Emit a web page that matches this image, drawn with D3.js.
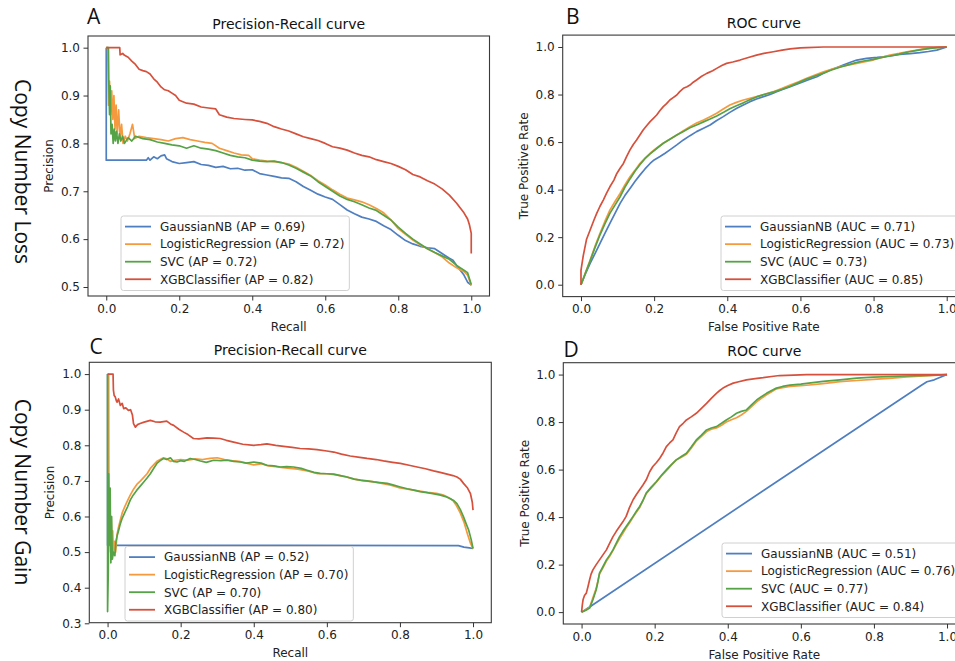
<!DOCTYPE html>
<html>
<head>
<meta charset="utf-8">
<script src="https://cdn.jsdelivr.net/npm/d3@7"></script>
<style>
  body { margin: 0; background: #fff; }
  svg { display: block; }
</style>
</head>
<body>
<div id="vis"></div>
<script>
// Curvas Precision-Recall y ROC para perdida / ganancia de numero de copias

const WIDTH = 955;
const HEIGHT = 661;

const MODELOS = ["GaussianNB", "LogisticRegression", "SVC", "XGBClassifier"];
const COLORES = ["#4f7fc0", "#f69a40", "#55a346", "#d6503b"];

const AP_LOSS = ["0.69", "0.72", "0.72", "0.82"];
const AUC_LOSS = ["0.71", "0.73", "0.73", "0.85"];
const AP_GAIN = ["0.52", "0.70", "0.70", "0.80"];
const AUC_GAIN = ["0.51", "0.76", "0.77", "0.84"];

const X_TICKS = [0, 0.2, 0.4, 0.6, 0.8, 1.0];
const Y_TICKS_PR_LOSS = [0.5, 0.6, 0.7, 0.8, 0.9, 1.0];
const Y_TICKS_PR_GAIN = [0.3, 0.4, 0.5, 0.6, 0.7, 0.8, 0.9, 1.0];
const Y_TICKS_ROC = [0, 0.2, 0.4, 0.6, 0.8, 1.0];

// ---- Copy Number Loss: Precision-Recall [recall, precision]
const lossPrGaussian = [[0,1.0],[0,0.765],[0.11,0.765],[0.115,0.77],[0.12,0.765],[0.13,0.772],[0.14,0.768],[0.15,0.774],[0.16,0.776],[0.165,0.768],[0.18,0.762],[0.2,0.758],[0.22,0.76],[0.24,0.762],[0.26,0.756],[0.28,0.754],[0.3,0.75],[0.32,0.752],[0.34,0.747],[0.36,0.748],[0.38,0.744],[0.4,0.745],[0.42,0.737],[0.44,0.734],[0.46,0.731],[0.48,0.728],[0.5,0.727],[0.52,0.72],[0.54,0.71],[0.56,0.702],[0.58,0.694],[0.6,0.688],[0.62,0.683],[0.64,0.672],[0.66,0.661],[0.68,0.653],[0.7,0.646],[0.72,0.642],[0.74,0.637],[0.76,0.628],[0.78,0.62],[0.8,0.608],[0.82,0.597],[0.84,0.59],[0.86,0.585],[0.88,0.582],[0.9,0.58],[0.92,0.57],[0.94,0.56],[0.95,0.556],[0.96,0.545],[0.97,0.535],[0.98,0.525],[0.99,0.51],[1.0,0.504]];
const lossPrLogistic = [[0,1.0],[0.004,1.0],[0.006,0.88],[0.009,0.93],[0.012,0.86],[0.015,0.91],[0.018,0.85],[0.021,0.9],[0.024,0.83],[0.027,0.88],[0.03,0.82],[0.034,0.87],[0.038,0.81],[0.042,0.84],[0.046,0.8],[0.052,0.815],[0.058,0.805],[0.065,0.82],[0.072,0.84],[0.078,0.81],[0.09,0.815],[0.11,0.812],[0.13,0.81],[0.15,0.808],[0.17,0.805],[0.19,0.81],[0.21,0.812],[0.23,0.808],[0.25,0.805],[0.27,0.802],[0.29,0.8],[0.31,0.79],[0.33,0.785],[0.35,0.78],[0.37,0.776],[0.39,0.775],[0.4,0.768],[0.42,0.765],[0.44,0.763],[0.46,0.762],[0.48,0.76],[0.5,0.757],[0.52,0.75],[0.54,0.742],[0.56,0.733],[0.58,0.722],[0.6,0.713],[0.62,0.703],[0.64,0.694],[0.66,0.686],[0.68,0.682],[0.7,0.678],[0.72,0.672],[0.74,0.664],[0.76,0.655],[0.78,0.64],[0.8,0.622],[0.82,0.61],[0.84,0.598],[0.86,0.588],[0.88,0.58],[0.9,0.572],[0.92,0.563],[0.94,0.55],[0.96,0.54],[0.98,0.532],[0.99,0.525],[1.0,0.503]];
const lossPrSvc = [[0,1.0],[0.006,1.0],[0.007,0.93],[0.009,0.86],[0.011,0.92],[0.013,0.82],[0.016,0.84],[0.019,0.8],[0.022,0.83],[0.025,0.805],[0.028,0.825],[0.032,0.8],[0.036,0.82],[0.04,0.805],[0.045,0.815],[0.05,0.8],[0.06,0.812],[0.07,0.805],[0.08,0.815],[0.1,0.81],[0.12,0.808],[0.14,0.803],[0.16,0.8],[0.18,0.797],[0.2,0.795],[0.22,0.79],[0.24,0.795],[0.26,0.79],[0.28,0.788],[0.3,0.785],[0.32,0.78],[0.34,0.775],[0.36,0.772],[0.38,0.77],[0.4,0.765],[0.42,0.763],[0.44,0.762],[0.46,0.763],[0.48,0.76],[0.5,0.755],[0.52,0.748],[0.54,0.74],[0.56,0.732],[0.58,0.72],[0.6,0.71],[0.62,0.7],[0.64,0.69],[0.66,0.683],[0.68,0.678],[0.7,0.672],[0.72,0.665],[0.74,0.66],[0.76,0.65],[0.78,0.64],[0.8,0.625],[0.82,0.612],[0.84,0.6],[0.86,0.59],[0.88,0.58],[0.9,0.572],[0.92,0.565],[0.94,0.558],[0.96,0.545],[0.98,0.535],[0.99,0.53],[1.0,0.505]];
const lossPrXgb = [[0,1.0],[0.037,1.0],[0.038,0.985],[0.045,0.988],[0.05,0.984],[0.06,0.98],[0.07,0.972],[0.08,0.965],[0.09,0.955],[0.1,0.952],[0.11,0.95],[0.12,0.945],[0.13,0.935],[0.14,0.928],[0.15,0.918],[0.16,0.912],[0.17,0.91],[0.18,0.905],[0.19,0.9],[0.2,0.89],[0.21,0.887],[0.22,0.884],[0.24,0.882],[0.26,0.876],[0.28,0.874],[0.3,0.872],[0.31,0.86],[0.33,0.855],[0.35,0.852],[0.38,0.85],[0.4,0.849],[0.42,0.846],[0.44,0.842],[0.46,0.835],[0.48,0.83],[0.5,0.826],[0.52,0.82],[0.54,0.814],[0.56,0.81],[0.58,0.806],[0.6,0.8],[0.62,0.793],[0.64,0.79],[0.66,0.786],[0.68,0.78],[0.7,0.775],[0.72,0.772],[0.74,0.766],[0.76,0.762],[0.78,0.758],[0.8,0.752],[0.82,0.745],[0.84,0.735],[0.86,0.73],[0.88,0.722],[0.9,0.715],[0.92,0.705],[0.94,0.692],[0.96,0.675],[0.97,0.665],[0.98,0.655],[0.99,0.642],[0.995,0.63],[1.0,0.612],[1.0,0.57]];

// ---- Copy Number Loss: ROC [fpr, tpr]
const lossRocGaussian = [[0,0],[0.012,0.045],[0.025,0.09],[0.038,0.13],[0.052,0.174],[0.065,0.215],[0.079,0.258],[0.093,0.3],[0.107,0.342],[0.12,0.375],[0.134,0.405],[0.148,0.435],[0.161,0.461],[0.175,0.487],[0.189,0.51],[0.2,0.525],[0.216,0.539],[0.23,0.553],[0.243,0.567],[0.262,0.588],[0.28,0.609],[0.298,0.627],[0.316,0.644],[0.335,0.658],[0.353,0.672],[0.37,0.69],[0.389,0.707],[0.407,0.725],[0.426,0.742],[0.444,0.756],[0.462,0.77],[0.48,0.781],[0.499,0.791],[0.517,0.8],[0.535,0.812],[0.553,0.822],[0.572,0.833],[0.59,0.843],[0.608,0.854],[0.626,0.864],[0.645,0.875],[0.663,0.89],[0.681,0.903],[0.7,0.914],[0.717,0.924],[0.735,0.935],[0.754,0.945],[0.781,0.952],[0.81,0.956],[0.827,0.959],[0.85,0.964],[0.872,0.969],[0.9,0.972],[0.927,0.976],[0.95,0.981],[0.973,0.987],[1.0,1.0]];
const lossRocLogistic = [[0,0],[0.012,0.05],[0.025,0.104],[0.038,0.16],[0.052,0.216],[0.065,0.265],[0.079,0.314],[0.093,0.35],[0.107,0.384],[0.12,0.42],[0.134,0.454],[0.148,0.482],[0.161,0.51],[0.175,0.533],[0.189,0.553],[0.207,0.575],[0.225,0.595],[0.243,0.612],[0.262,0.63],[0.28,0.648],[0.298,0.665],[0.316,0.68],[0.335,0.693],[0.353,0.707],[0.371,0.721],[0.39,0.74],[0.407,0.756],[0.425,0.767],[0.444,0.777],[0.462,0.784],[0.48,0.791],[0.5,0.8],[0.526,0.812],[0.55,0.826],[0.572,0.84],[0.595,0.854],[0.617,0.868],[0.64,0.882],[0.663,0.896],[0.685,0.906],[0.708,0.917],[0.73,0.924],[0.754,0.931],[0.777,0.938],[0.799,0.945],[0.82,0.955],[0.845,0.966],[0.87,0.973],[0.891,0.98],[0.915,0.986],[0.936,0.992],[0.955,0.995],[0.973,0.997],[1.0,1.0]];
const lossRocSvc = [[0,0],[0.012,0.048],[0.025,0.1],[0.038,0.155],[0.052,0.21],[0.065,0.255],[0.079,0.3],[0.093,0.335],[0.107,0.37],[0.12,0.41],[0.134,0.445],[0.148,0.478],[0.161,0.505],[0.175,0.53],[0.189,0.55],[0.207,0.573],[0.225,0.595],[0.243,0.612],[0.262,0.63],[0.28,0.645],[0.298,0.66],[0.316,0.672],[0.335,0.685],[0.353,0.697],[0.371,0.71],[0.39,0.725],[0.407,0.74],[0.425,0.753],[0.444,0.765],[0.462,0.778],[0.48,0.79],[0.5,0.8],[0.526,0.81],[0.55,0.822],[0.572,0.835],[0.595,0.85],[0.617,0.865],[0.64,0.878],[0.663,0.89],[0.685,0.903],[0.708,0.915],[0.73,0.925],[0.754,0.935],[0.777,0.942],[0.799,0.948],[0.82,0.955],[0.845,0.962],[0.87,0.97],[0.891,0.978],[0.915,0.985],[0.936,0.99],[0.955,0.994],[0.973,0.997],[1.0,1.0]];
const lossRocXgb = [[0,0],[0,0.06],[0.006,0.12],[0.015,0.19],[0.025,0.23],[0.035,0.27],[0.043,0.3],[0.052,0.33],[0.061,0.356],[0.07,0.385],[0.079,0.412],[0.09,0.44],[0.098,0.468],[0.107,0.49],[0.116,0.51],[0.125,0.54],[0.134,0.567],[0.143,0.59],[0.152,0.609],[0.161,0.63],[0.17,0.651],[0.18,0.67],[0.189,0.686],[0.198,0.7],[0.207,0.714],[0.216,0.733],[0.225,0.749],[0.234,0.762],[0.243,0.777],[0.252,0.787],[0.262,0.798],[0.27,0.812],[0.28,0.826],[0.29,0.833],[0.298,0.84],[0.307,0.852],[0.316,0.861],[0.33,0.877],[0.344,0.889],[0.36,0.9],[0.371,0.91],[0.385,0.922],[0.398,0.931],[0.415,0.937],[0.435,0.945],[0.46,0.957],[0.48,0.966],[0.5,0.973],[0.526,0.98],[0.55,0.987],[0.572,0.992],[0.6,0.996],[0.617,0.997],[0.663,1.0],[1.0,1.0]];

// ---- Copy Number Gain: Precision-Recall
const gainPrGaussian = [[0,1.0],[0,0.519],[0.5,0.519],[0.96,0.518],[0.975,0.514],[0.99,0.512],[1.0,0.51]];
const gainPrLogistic = [[0,1.0],[0.003,1.0],[0.004,0.52],[0.006,0.58],[0.008,0.5],[0.01,0.6],[0.012,0.49],[0.014,0.56],[0.016,0.5],[0.019,0.53],[0.022,0.5],[0.026,0.55],[0.03,0.57],[0.035,0.59],[0.04,0.61],[0.048,0.63],[0.055,0.645],[0.062,0.66],[0.07,0.675],[0.08,0.69],[0.09,0.7],[0.099,0.71],[0.108,0.72],[0.117,0.735],[0.126,0.745],[0.135,0.755],[0.144,0.76],[0.153,0.765],[0.162,0.762],[0.172,0.755],[0.185,0.758],[0.2,0.76],[0.22,0.758],[0.24,0.762],[0.26,0.76],[0.28,0.763],[0.3,0.765],[0.32,0.76],[0.34,0.757],[0.36,0.755],[0.38,0.75],[0.4,0.745],[0.42,0.748],[0.44,0.742],[0.46,0.74],[0.48,0.737],[0.5,0.735],[0.52,0.733],[0.55,0.727],[0.575,0.72],[0.6,0.72],[0.625,0.717],[0.65,0.712],[0.675,0.705],[0.7,0.7],[0.725,0.698],[0.75,0.693],[0.775,0.688],[0.8,0.68],[0.825,0.676],[0.85,0.672],[0.875,0.668],[0.9,0.665],[0.92,0.66],[0.935,0.652],[0.945,0.645],[0.955,0.63],[0.965,0.61],[0.975,0.585],[0.985,0.55],[0.993,0.525],[1.0,0.51]];
const gainPrSvc = [[0,1.0],[0,0.333],[0.002,0.45],[0.003,0.72],[0.005,0.52],[0.007,0.68],[0.009,0.47],[0.011,0.6],[0.013,0.48],[0.016,0.5],[0.02,0.49],[0.023,0.53],[0.026,0.545],[0.03,0.56],[0.035,0.58],[0.04,0.595],[0.048,0.613],[0.055,0.628],[0.062,0.646],[0.07,0.66],[0.08,0.674],[0.09,0.686],[0.099,0.697],[0.108,0.708],[0.117,0.72],[0.126,0.735],[0.135,0.749],[0.144,0.757],[0.153,0.763],[0.162,0.76],[0.172,0.765],[0.18,0.755],[0.19,0.753],[0.2,0.757],[0.21,0.755],[0.226,0.763],[0.24,0.76],[0.254,0.756],[0.27,0.752],[0.29,0.758],[0.31,0.757],[0.327,0.758],[0.345,0.755],[0.363,0.753],[0.38,0.75],[0.4,0.753],[0.42,0.75],[0.436,0.744],[0.455,0.742],[0.473,0.739],[0.49,0.74],[0.509,0.739],[0.53,0.735],[0.546,0.73],[0.565,0.724],[0.582,0.721],[0.6,0.72],[0.619,0.719],[0.637,0.715],[0.655,0.711],[0.675,0.705],[0.692,0.702],[0.71,0.7],[0.728,0.697],[0.745,0.695],[0.765,0.693],[0.783,0.688],[0.801,0.683],[0.82,0.678],[0.838,0.674],[0.855,0.67],[0.874,0.667],[0.89,0.664],[0.911,0.66],[0.925,0.656],[0.938,0.65],[0.948,0.644],[0.956,0.636],[0.965,0.62],[0.974,0.599],[0.981,0.58],[0.988,0.562],[0.995,0.535],[1.0,0.51]];
const gainPrXgb = [[0,1.0],[0.015,1.0],[0.016,0.955],[0.018,0.94],[0.021,0.936],[0.024,0.925],[0.026,0.921],[0.03,0.93],[0.035,0.912],[0.04,0.918],[0.044,0.903],[0.05,0.905],[0.057,0.898],[0.063,0.9],[0.068,0.885],[0.071,0.861],[0.076,0.851],[0.082,0.858],[0.089,0.861],[0.1,0.865],[0.117,0.87],[0.13,0.866],[0.144,0.865],[0.162,0.868],[0.172,0.86],[0.181,0.856],[0.195,0.845],[0.208,0.837],[0.22,0.83],[0.235,0.819],[0.25,0.818],[0.272,0.821],[0.29,0.82],[0.308,0.819],[0.325,0.814],[0.345,0.809],[0.37,0.803],[0.4,0.8],[0.42,0.802],[0.436,0.804],[0.46,0.8],[0.482,0.797],[0.505,0.794],[0.527,0.791],[0.55,0.79],[0.573,0.788],[0.6,0.784],[0.619,0.781],[0.64,0.775],[0.664,0.77],[0.69,0.766],[0.71,0.763],[0.735,0.76],[0.755,0.756],[0.78,0.752],[0.801,0.749],[0.825,0.744],[0.847,0.739],[0.87,0.734],[0.892,0.728],[0.91,0.724],[0.929,0.719],[0.945,0.715],[0.956,0.711],[0.965,0.705],[0.974,0.693],[0.985,0.68],[0.993,0.664],[0.998,0.64],[1.0,0.618]];

// ---- Copy Number Gain: ROC
const gainRocGaussian = [[0,0],[0.025,0.025],[0.5,0.514],[0.93,0.955],[0.945,0.97],[0.965,0.978],[1.0,1.0]];
const gainRocLogistic = [[0,0],[0.012,0.01],[0.022,0.02],[0.031,0.06],[0.04,0.1],[0.049,0.16],[0.058,0.185],[0.068,0.215],[0.077,0.235],[0.086,0.26],[0.095,0.285],[0.104,0.31],[0.113,0.332],[0.122,0.355],[0.131,0.375],[0.141,0.4],[0.15,0.42],[0.159,0.44],[0.168,0.47],[0.177,0.5],[0.19,0.522],[0.205,0.548],[0.218,0.572],[0.232,0.595],[0.245,0.618],[0.259,0.64],[0.273,0.652],[0.287,0.665],[0.3,0.69],[0.314,0.72],[0.328,0.74],[0.342,0.76],[0.355,0.77],[0.369,0.775],[0.383,0.787],[0.396,0.8],[0.41,0.81],[0.424,0.818],[0.437,0.83],[0.451,0.845],[0.465,0.865],[0.479,0.885],[0.492,0.9],[0.506,0.915],[0.52,0.928],[0.533,0.94],[0.55,0.945],[0.57,0.95],[0.6,0.953],[0.616,0.955],[0.661,0.962],[0.707,0.97],[0.753,0.975],[0.798,0.98],[0.85,0.985],[0.89,0.99],[0.95,0.995],[1.0,1.0]];
const gainRocSvc = [[0,0],[0.012,0.008],[0.022,0.017],[0.031,0.052],[0.04,0.094],[0.045,0.13],[0.049,0.164],[0.058,0.19],[0.068,0.22],[0.077,0.24],[0.086,0.262],[0.095,0.29],[0.104,0.318],[0.113,0.34],[0.122,0.36],[0.131,0.38],[0.141,0.403],[0.15,0.425],[0.159,0.445],[0.168,0.47],[0.177,0.501],[0.19,0.525],[0.205,0.55],[0.218,0.575],[0.232,0.599],[0.245,0.62],[0.259,0.641],[0.273,0.655],[0.287,0.669],[0.3,0.695],[0.314,0.725],[0.328,0.745],[0.342,0.767],[0.355,0.775],[0.369,0.781],[0.383,0.795],[0.396,0.809],[0.41,0.822],[0.424,0.837],[0.437,0.845],[0.451,0.851],[0.465,0.872],[0.479,0.893],[0.492,0.907],[0.506,0.921],[0.52,0.933],[0.533,0.943],[0.55,0.95],[0.57,0.956],[0.6,0.96],[0.616,0.963],[0.661,0.971],[0.707,0.978],[0.753,0.985],[0.798,0.989],[0.85,0.992],[0.89,0.994],[0.95,0.997],[1.0,1.0]];
const gainRocXgb = [[0,0],[0.002,0.03],[0.004,0.052],[0.008,0.07],[0.013,0.08],[0.018,0.11],[0.022,0.136],[0.026,0.16],[0.031,0.178],[0.04,0.2],[0.049,0.22],[0.058,0.24],[0.068,0.262],[0.077,0.29],[0.086,0.318],[0.095,0.34],[0.104,0.36],[0.113,0.38],[0.122,0.403],[0.131,0.44],[0.141,0.473],[0.15,0.495],[0.159,0.515],[0.168,0.535],[0.177,0.557],[0.186,0.59],[0.195,0.613],[0.205,0.63],[0.214,0.648],[0.223,0.67],[0.232,0.697],[0.241,0.712],[0.25,0.725],[0.259,0.755],[0.268,0.781],[0.278,0.795],[0.287,0.809],[0.3,0.822],[0.314,0.837],[0.328,0.858],[0.342,0.879],[0.355,0.9],[0.369,0.921],[0.378,0.933],[0.387,0.943],[0.4,0.954],[0.415,0.964],[0.43,0.97],[0.451,0.978],[0.475,0.983],[0.497,0.987],[0.52,0.992],[0.542,0.996],[0.58,0.998],[0.616,1.0],[1.0,1.0]];

const SVG = d3.select("#vis").append("svg")
    .attr("width", WIDTH)
    .attr("height", HEIGHT);

const FUENTE = "DejaVu Sans, sans-serif";
const FUENTE_ROTULO = "'Open Sans', 'Noto Sans', sans-serif";
const fmt = d3.format(".1f");

function dibujarPanel(cfg) {
    const x = d3.scaleLinear().domain(cfg.xDom).range([cfg.left, cfg.right]);
    const y = d3.scaleLinear().domain(cfg.yDom).range([cfg.bottom, cfg.top]);

    const g = SVG.append("g").attr("class", "panel");

    // clip para que las lineas no se salgan del marco
    g.append("clipPath").attr("id", "clip-" + cfg.id)
        .append("rect")
        .attr("x", cfg.left).attr("y", cfg.top)
        .attr("width", cfg.right - cfg.left).attr("height", cfg.bottom - cfg.top);

    const linea = d3.line().x(d => x(d[0])).y(d => y(d[1]));

    g.append("g")
        .attr("clip-path", `url(#clip-${cfg.id})`)
        .selectAll("path")
        .data(cfg.series)
        .join("path")
        .attr("d", d => linea(d))
        .attr("fill", "none")
        .attr("stroke", (d, i) => COLORES[i])
        .attr("stroke-width", 1.7)
        .attr("stroke-linejoin", "round");

    // marco
    g.append("rect")
        .attr("x", cfg.left).attr("y", cfg.top)
        .attr("width", cfg.right - cfg.left).attr("height", cfg.bottom - cfg.top)
        .attr("fill", "none")
        .attr("stroke", "#3a3a3a")
        .attr("stroke-width", 1.1);

    const ejeX = g.append("g")
        .attr("transform", `translate(0,${cfg.bottom})`)
        .call(d3.axisBottom(x).tickValues(X_TICKS).tickFormat(fmt).tickSize(4.5).tickPadding(3.5));
    const ejeY = g.append("g")
        .attr("transform", `translate(${cfg.left},0)`)
        .call(d3.axisLeft(y).tickValues(cfg.yTicks).tickFormat(fmt).tickSize(4.5).tickPadding(3.5));

    [ejeX, ejeY].forEach(eje => {
        eje.select(".domain").remove();
        eje.selectAll("line").attr("stroke", "#333").attr("stroke-width", 1);
        eje.selectAll("text")
            .attr("font-family", FUENTE)
            .attr("font-size", 12)
            .attr("fill", "#222");
    });

    const cx = (cfg.left + cfg.right) / 2;
    const cy = (cfg.top + cfg.bottom) / 2;

    // titulo
    g.append("text")
        .attr("x", cx).attr("y", cfg.top - 7)
        .attr("text-anchor", "middle")
        .attr("font-family", FUENTE).attr("font-size", 14)
        .attr("fill", "#111")
        .text(cfg.titulo);

    g.append("text")
        .attr("x", cx).attr("y", cfg.bottom + 34.5)
        .attr("text-anchor", "middle")
        .attr("font-family", FUENTE).attr("font-size", 12)
        .attr("fill", "#222")
        .text(cfg.etiquetaX);

    g.append("text")
        .attr("transform", `translate(${cfg.yLabelX},${cy}) rotate(-90)`)
        .attr("text-anchor", "middle")
        .attr("font-family", FUENTE).attr("font-size", 12)
        .attr("fill", "#222")
        .text(cfg.etiquetaY);

    // letra del panel
    g.append("text")
        .attr("x", cfg.letraX).attr("y", cfg.letraY)
        .attr("font-family", FUENTE_ROTULO).attr("font-size", 21)
        .attr("fill", "#111")
        .text(cfg.letra);

    // leyenda
    const leg = g.append("g").attr("transform", `translate(${cfg.legX},${cfg.legY})`);
    const caja = leg.append("rect")
        .attr("rx", 2.5).attr("ry", 2.5)
        .attr("height", 74.5)
        .attr("fill", "white").attr("fill-opacity", 0.85)
        .attr("stroke", "#d0d0d0").attr("stroke-width", 1);

    const filas = leg.selectAll("g.fila")
        .data(MODELOS)
        .join("g")
        .attr("class", "fila")
        .attr("transform", (d, i) => `translate(0,${10.6 + i * 17.55})`);
    filas.append("line")
        .attr("x1", 4).attr("x2", 30)
        .attr("stroke", (d, i) => COLORES[i])
        .attr("stroke-width", 1.8);
    filas.append("text")
        .attr("x", 39).attr("y", 4.3)
        .attr("font-family", FUENTE).attr("font-size", 12)
        .attr("fill", "#222")
        .text((d, i) => `${d} (${cfg.metrica} = ${cfg.valores[i]})`);

    let maxAncho = 0;
    filas.selectAll("text").each(function () {
        maxAncho = Math.max(maxAncho, this.getComputedTextLength());
    });
    caja.attr("width", 39 + maxAncho + 5);
}

dibujarPanel({
    id: "a", letra: "A", letraX: 87, letraY: 23.5,
    left: 88, right: 489.5, top: 36, bottom: 296,
    xDom: [-0.05, 1.05], yDom: [0.4812, 1.0244], yTicks: Y_TICKS_PR_LOSS,
    titulo: "Precision-Recall curve", etiquetaX: "Recall", etiquetaY: "Precision", yLabelX: 53,
    series: [lossPrGaussian, lossPrLogistic, lossPrSvc, lossPrXgb],
    metrica: "AP", valores: AP_LOSS, legX: 121, legY: 216
});

dibujarPanel({
    id: "b", letra: "B", letraX: 566, letraY: 23.5,
    left: 562.7, right: 965, top: 35.1, bottom: 296.6,
    xDom: [-0.05, 1.05], yDom: [-0.05, 1.05], yTicks: Y_TICKS_ROC,
    titulo: "ROC curve", etiquetaX: "False Positive Rate", etiquetaY: "True Positive Rate", yLabelX: 528,
    series: [lossRocGaussian, lossRocLogistic, lossRocSvc, lossRocXgb],
    metrica: "AUC", valores: AUC_LOSS, legX: 721, legY: 216
});

dibujarPanel({
    id: "c", letra: "C", letraX: 89.5, letraY: 353.5,
    left: 89.3, right: 491.3, top: 362.3, bottom: 622.7,
    xDom: [-0.05, 1.05], yDom: [0.3017, 1.0331], yTicks: Y_TICKS_PR_GAIN,
    titulo: "Precision-Recall curve", etiquetaX: "Recall", etiquetaY: "Precision", yLabelX: 54,
    series: [gainPrGaussian, gainPrLogistic, gainPrSvc, gainPrXgb],
    metrica: "AP", valores: AP_GAIN, legX: 125, legY: 546.5
});

dibujarPanel({
    id: "d", letra: "D", letraX: 563.5, letraY: 357,
    left: 563.3, right: 965.3, top: 362.7, bottom: 624,
    xDom: [-0.05, 1.05], yDom: [-0.05, 1.05], yTicks: Y_TICKS_ROC,
    titulo: "ROC curve", etiquetaX: "False Positive Rate", etiquetaY: "True Positive Rate", yLabelX: 529,
    series: [gainRocGaussian, gainRocLogistic, gainRocSvc, gainRocXgb],
    metrica: "AUC", valores: AUC_GAIN, legX: 722, legY: 543
});

// rotulos de fila (texto girado hacia abajo)
SVG.selectAll("text.fila-rotulo")
    .data([["Copy Number Loss", 171.5], ["Copy Number Gain", 492]])
    .join("text")
    .attr("class", "fila-rotulo")
    .attr("transform", d => `translate(14.5,${d[1]}) rotate(90)`)
    .attr("text-anchor", "middle")
    .attr("font-family", FUENTE_ROTULO)
    .attr("font-size", 21)
    .attr("fill", "#111")
    .text(d => d[0]);
</script>
</body>
</html>
